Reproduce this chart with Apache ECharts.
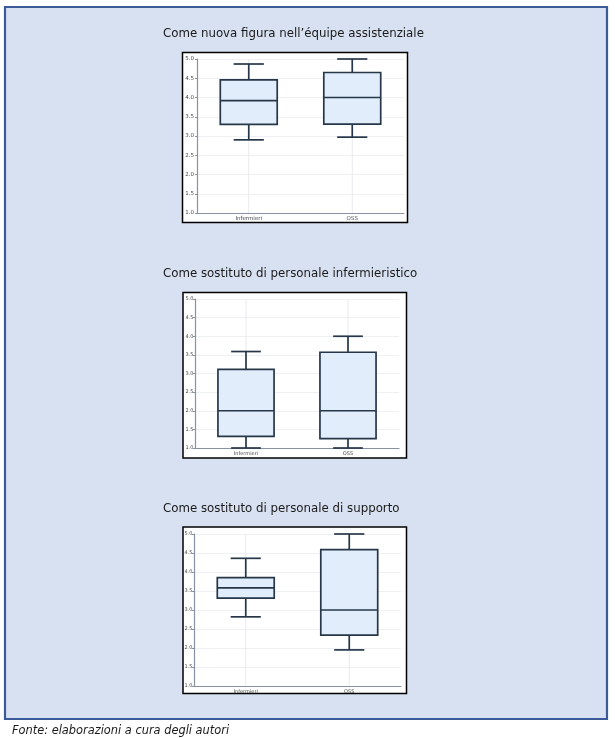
<!DOCTYPE html>
<html>
<head>
<meta charset="utf-8">
<script src="https://cdn.jsdelivr.net/npm/echarts@6/dist/echarts.min.js"></script>
<style>
html,body{margin:0;padding:0;background:#ffffff;}
#chart{width:615px;height:738px;}
</style>
</head>
<body>
<div id="chart"></div>
<script>
// ---- data ----
const categories = ['Infermieri', 'OSS'];
const panelTitles = [
  'Come nuova figura nell\u2019équipe assistenziale',
  'Come sostituto di personale infermieristico',
  'Come sostituto di personale di supporto'
];
// each row: [min, Q1, median, Q3, max]
const nuovaFiguraInfermieri = [2.90, 3.30, 3.92, 4.46, 4.87];
const nuovaFiguraOSS        = [2.97, 3.31, 4.00, 4.65, 5.00];
const sostInfermInfermieri  = [1.00, 1.31, 2.00, 3.11, 3.59];
const sostInfermOSS         = [1.00, 1.25, 2.00, 3.57, 4.00];
const sostSupportoInfermieri= [2.82, 3.31, 3.58, 3.85, 4.36];
const sostSupportoOSS       = [1.95, 2.34, 3.00, 4.59, 5.00];
const yMin = 1.0, yMax = 5.0, yStep = 0.5;
const sourceNote = 'Fonte: elaborazioni a cura degli autori';

const panels = [
  [nuovaFiguraInfermieri, nuovaFiguraOSS],
  [sostInfermInfermieri, sostInfermOSS],
  [sostSupportoInfermieri, sostSupportoOSS]
];

// ---- layout ----
const grids = [
  {left: 197, top: 59, width: 207, height: 154},
  {left: 195, top: 299, width: 204, height: 149},
  {left: 194, top: 534, width: 207, height: 152}
];
const boxes = [
  {x: 182.5, y: 52.5, width: 225, height: 170},
  {x: 183, y: 292.5, width: 223.5, height: 165.5},
  {x: 183, y: 527, width: 223.5, height: 166.5}
];
const labelMargin = [3, 1.5, 1.5];
const labelSize = [5.5, 5, 5];
const titleY = [34, 274, 509];

const axisFont = 'DejaVu Sans';
const titleFont = '"DejaVu Sans", sans-serif';

function renderBox(params, api) {
  const i = api.value(0);
  const lo = api.coord([i, api.value(1)]);
  const q1 = api.coord([i, api.value(2)]);
  const med = api.coord([i, api.value(3)]);
  const q3 = api.coord([i, api.value(4)]);
  const hi = api.coord([i, api.value(5)]);
  const band = api.size([1, 0])[0];
  const bw = band * 0.55;
  const cw = bw * 0.53;
  const cx = lo[0];
  const cs = params.coordSys;
  const stroke = {stroke: '#263749', lineWidth: 1.7, fill: null};
  return {
    type: 'group',
    children: [
      {type: 'line', shape: {x1: cx, y1: cs.y, x2: cx, y2: cs.y + cs.height}, style: {stroke: '#e7eaef', lineWidth: 1}},
      {type: 'line', shape: {x1: cx, y1: hi[1], x2: cx, y2: q3[1]}, style: stroke},
      {type: 'line', shape: {x1: cx, y1: lo[1], x2: cx, y2: q1[1]}, style: stroke},
      {type: 'line', shape: {x1: cx - cw / 2, y1: hi[1], x2: cx + cw / 2, y2: hi[1]}, style: stroke},
      {type: 'line', shape: {x1: cx - cw / 2, y1: lo[1], x2: cx + cw / 2, y2: lo[1]}, style: stroke},
      {type: 'rect', shape: {x: cx - bw / 2, y: q3[1], width: bw, height: q1[1] - q3[1]},
        style: {fill: '#e2edfb', stroke: '#263749', lineWidth: 1.7}},
      {type: 'line', shape: {x1: cx - bw / 2, y1: med[1], x2: cx + bw / 2, y2: med[1]}, style: stroke}
    ]
  };
}

const graphic = [
  {type: 'rect', z: -20, shape: {x: 5, y: 7, width: 602, height: 712},
    style: {fill: '#d8e1f1', stroke: '#3b5a98', lineWidth: 2.2}}
];
boxes.forEach(function (b) {
  graphic.push({type: 'rect', z: -10, shape: b, style: {fill: '#ffffff', stroke: '#000000', lineWidth: 1.5}});
});
panelTitles.forEach(function (t, k) {
  graphic.push({type: 'text', z: 5, x: 163, y: titleY[k],
    style: {text: t, font: '11.8px ' + titleFont, fill: '#1a1a1a', textVerticalAlign: 'middle'}});
});
graphic.push({type: 'text', z: 5, x: 12, y: 731,
  style: {text: sourceNote, font: 'italic 11.4px ' + titleFont, fill: '#1a1a1a', textVerticalAlign: 'middle'}});

const xAxes = [], yAxes = [], series = [];
grids.forEach(function (g, k) {
  xAxes.push({
    type: 'category', gridIndex: k, data: categories,
    axisLine: {lineStyle: {color: '#8793a0', width: 1.2}},
    axisTick: {show: false},
    axisLabel: {fontSize: labelSize[k], fontFamily: axisFont, color: '#4a4a4a', margin: 3},
    splitLine: {show: false}
  });
  yAxes.push({
    type: 'value', gridIndex: k, min: yMin, max: yMax, interval: yStep,
    axisLine: {show: true, lineStyle: {color: '#8793a0', width: 1.2}},
    axisTick: {show: true, length: 2, lineStyle: {color: '#8793a0'}},
    axisLabel: {fontSize: labelSize[k], fontFamily: axisFont, color: '#4a4a4a', margin: labelMargin[k],
      formatter: function (v) { return v.toFixed(1); }},
    splitLine: {show: true, lineStyle: {color: '#eef0f3', width: 1}}
  });
  series.push({
    type: 'custom', xAxisIndex: k, yAxisIndex: k,
    renderItem: renderBox,
    encode: {x: 0, y: [1, 2, 3, 4, 5]},
    data: panels[k].map(function (row, i) { return [i].concat(row); }),
    z: 3
  });
});

const chart = echarts.init(document.getElementById('chart'), null, {renderer: 'canvas'});
chart.setOption({
  animation: false,
  backgroundColor: '#ffffff',
  grid: grids.map(function (g) { return Object.assign({containLabel: false}, g); }),
  xAxis: xAxes,
  yAxis: yAxes,
  series: series,
  graphic: graphic
});
</script>
</body>
</html>
